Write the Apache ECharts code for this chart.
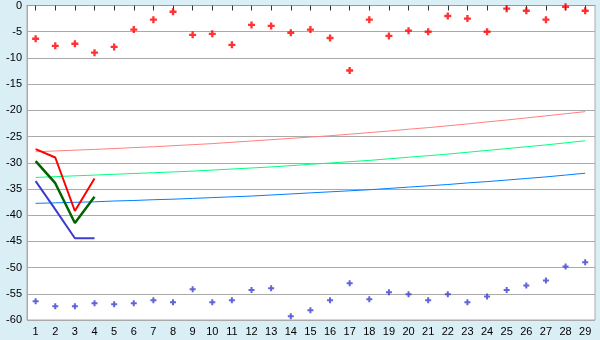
<!DOCTYPE html>
<html><head><meta charset="utf-8">
<script src="https://cdn.jsdelivr.net/npm/echarts@6/dist/echarts.min.js"></script>
<style>html,body{margin:0;padding:0;background:#d9eef5;}#c{width:600px;height:340px;}</style>
</head><body><div id="c"></div>
<script>
var categories = [1,2,3,4,5,6,7,8,9,10,11,12,13,14,15,16,17,18,19,20,21,22,23,24,25,26,27,28,29];
var yTicks = [0,-5,-10,-15,-20,-25,-30,-35,-40,-45,-50,-55,-60];
var redPoints = [-6.35,-7.7,-7.3,-9.0,-7.9,-4.6,-2.7,-1.2,-5.6,-5.4,-7.5,-3.7,-3.9,-5.2,-4.6,-6.2,-12.4,-2.7,-5.8,-4.8,-5.0,-2.0,-2.5,-5.0,-0.6,-1.0,-2.7,-0.25,-1.0];
var bluePoints = [-56.4,-57.4,-57.4,-56.8,-57.0,-56.8,-56.25,-56.6,-54.15,-56.6,-56.25,-54.3,-53.95,-59.3,-58.15,-56.25,-53.0,-56.05,-54.7,-55.1,-56.25,-55.1,-56.6,-55.5,-54.3,-53.4,-52.45,-49.8,-49.0];
var salmonTrend = [-27.9,-27.75,-27.6,-27.45,-27.3,-27.1,-26.95,-26.75,-26.55,-26.35,-26.1,-25.85,-25.6,-25.35,-25.1,-24.85,-24.55,-24.25,-23.95,-23.6,-23.3,-22.95,-22.6,-22.2,-21.85,-21.45,-21.05,-20.65,-20.25];
var greenTrend = [-32.8,-32.65,-32.5,-32.35,-32.2,-32.05,-31.9,-31.75,-31.6,-31.4,-31.2,-31.0,-30.8,-30.55,-30.3,-30.05,-29.8,-29.55,-29.25,-28.95,-28.65,-28.35,-28.0,-27.65,-27.3,-26.95,-26.6,-26.2,-25.8];
var blueTrend = [-37.75,-37.65,-37.55,-37.45,-37.3,-37.2,-37.05,-36.95,-36.8,-36.65,-36.5,-36.35,-36.15,-35.95,-35.75,-35.55,-35.35,-35.15,-34.9,-34.65,-34.4,-34.15,-33.85,-33.6,-33.3,-33.0,-32.7,-32.35,-32.0];
var redLine = [-27.4,-29.0,-39.2,-33.0];
var greenLine = [-29.7,-33.9,-41.5,-36.5];
var blueLine = [-33.5,-38.9,-44.4,-44.4];

function pairs(vals){ return vals.map(function(v,i){ return [categories[i], v]; }); }
var plus = 'path://M2,0H4V2H6V4H4V6H2V4H0V2H2Z';

var chart = echarts.init(document.getElementById('c'), null, {renderer:'canvas'});
chart.setOption({
  backgroundColor: '#d9eef5',
  animation: false,
  grid: {left: 27, right: 5, top: 5, bottom: 20, show: true, backgroundColor: '#ffffff', borderColor: '#aaaaaa', borderWidth: 1},
  xAxis: {
    type: 'value', min: 0.56, max: 29.5,
    axisLine: {show: true, lineStyle: {color: '#999999'}},
    axisTick: {show: true, length: 5, customValues: categories, lineStyle: {color: '#333333'}},
    axisLabel: {customValues: categories, color: '#000', fontFamily: 'Liberation Sans, Arial', fontSize: 11, margin: 6},
    splitLine: {show: false}
  },
  yAxis: {
    type: 'value', min: -60, max: 0, interval: 5,
    axisLine: {show: true, lineStyle: {color: '#aaaaaa'}},
    axisTick: {show: false},
    axisLabel: {color: '#000', fontFamily: 'Liberation Sans, Arial', fontSize: 11, margin: 5},
    splitLine: {show: true, lineStyle: {color: '#aaaaaa', width: 1}}
  },
  series: [
    {type: 'line', data: pairs(salmonTrend), symbol: 'none', lineStyle: {color: '#ff8080', width: 1}},
    {type: 'line', data: pairs(greenTrend), symbol: 'none', lineStyle: {color: '#00ff80', width: 1}},
    {type: 'line', data: pairs(blueTrend), symbol: 'none', lineStyle: {color: '#0080ff', width: 1}},
    {type: 'line', data: pairs(blueLine), symbol: 'none', lineStyle: {color: '#3c3cd0', width: 2}},
    {type: 'line', data: pairs(greenLine), symbol: 'none', lineStyle: {color: '#006400', width: 2.5}},
    {type: 'line', data: pairs(redLine), symbol: 'none', lineStyle: {color: '#ff0000', width: 2}},
    {type: 'scatter', data: pairs(redPoints), symbol: plus, symbolSize: 7, itemStyle: {color: '#ff0000'}},
    {type: 'scatter', data: pairs(bluePoints), symbol: plus, symbolSize: 6, itemStyle: {color: '#3c3cd0'}}
  ]
});
</script></body></html>
